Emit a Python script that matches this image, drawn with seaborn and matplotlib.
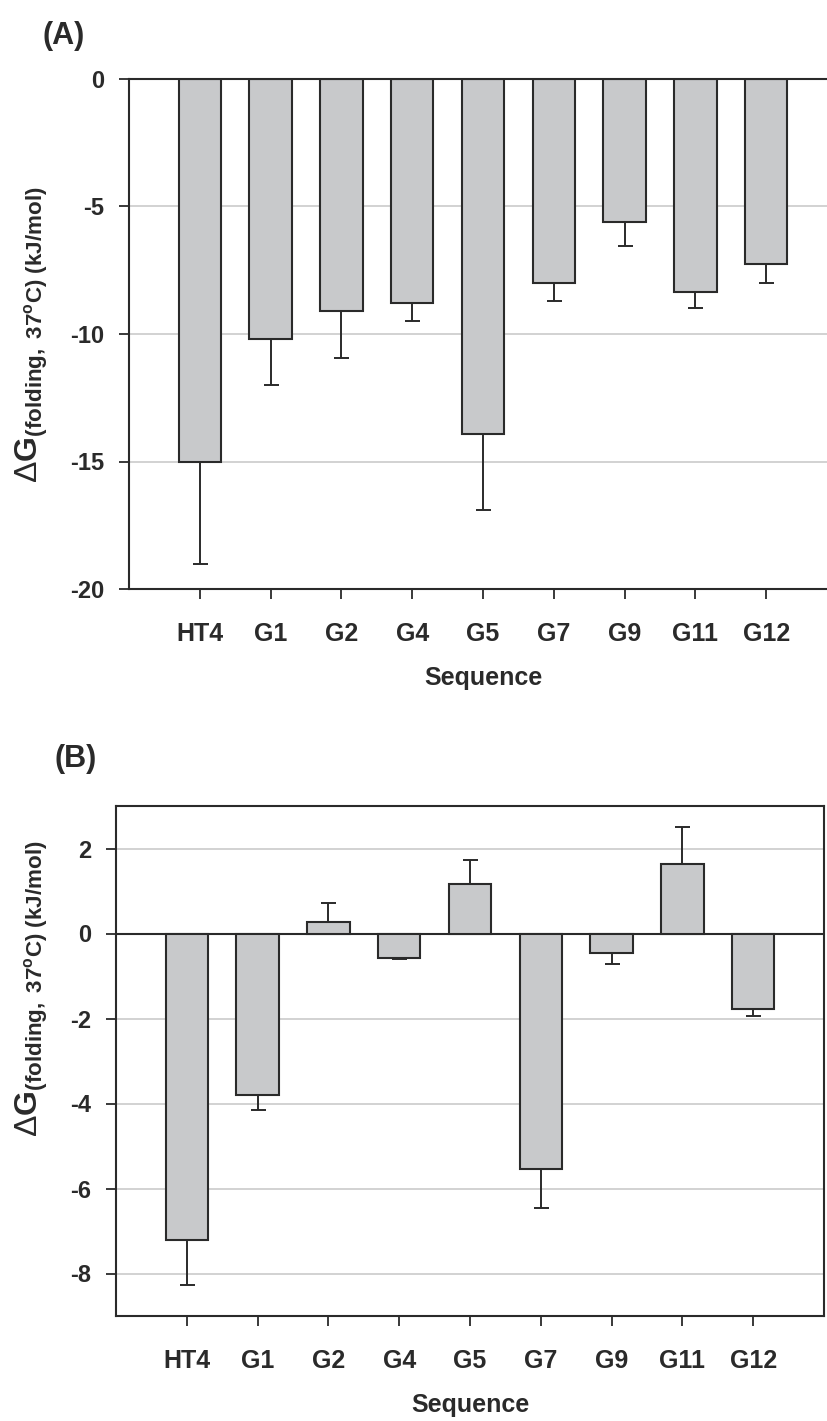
import matplotlib
matplotlib.use("Agg")
import matplotlib.pyplot as plt
import seaborn as sns
import numpy as np
import pandas as pd

# ---- data ----
sequences = ["HT4", "G1", "G2", "G4", "G5", "G7", "G9", "G11", "G12"]
dG_A = [-15.0, -10.18, -9.11, -8.77, -13.92, -8.01, -5.61, -8.35, -7.25]
err_A = [4.0, 1.82, 1.82, 0.71, 3.0, 0.70, 0.93, 0.63, 0.75]
dG_B = [-7.22, -3.81, 0.27, -0.57, 1.17, -5.55, -0.46, 1.63, -1.77]
err_B = [1.06, 0.35, 0.45, 0.04, 0.57, 0.90, 0.25, 0.88, 0.16]
yticks_A = [0, -5, -10, -15, -20]
yticks_B = [2, 0, -2, -4, -6, -8]

sns.set_style("white")
plt.rcParams['font.family'] = ['Liberation Sans', 'DejaVu Sans']
plt.rcParams['axes.unicode_minus'] = False
plt.rcParams['mathtext.fontset'] = 'custom'
plt.rcParams['mathtext.rm'] = 'Liberation Sans'
plt.rcParams['mathtext.bf'] = 'Liberation Sans:bold'
plt.rcParams['mathtext.it'] = 'Liberation Sans:italic'

W, H = 827, 1421
fig = plt.figure(figsize=(W / 100, H / 100), dpi=100)

dark = '#2a2a2a'
barcol = '#c8c9cb'
gridcol = '#cfcfcf'

def panel(rect, vals, errs, ylim, yticks, boxed_zero):
    ax = fig.add_axes(rect)
    df = pd.DataFrame({"seq": sequences, "dG": vals})
    sns.barplot(data=df, x="seq", y="dG", order=sequences, color=barcol,
                edgecolor=dark, linewidth=1.5, width=0.6, errorbar=None,
                saturation=1, ax=ax, zorder=2)
    for p in ax.patches:
        p.set_facecolor(barcol)
    v = np.array(vals)
    e = np.array(errs)
    lower = np.where(v < 0, e, 0)
    upper = np.where(v >= 0, e, 0)
    ax.errorbar(np.arange(len(sequences)), v, yerr=[lower, upper], fmt='none',
                ecolor=dark, elinewidth=1.4, capsize=5.4, capthick=1.4, zorder=3)
    ax.set_xlim(-1, len(sequences))
    ax.set_ylim(*ylim)
    ax.set_yticks(yticks)
    ax.set_yticklabels([str(t) for t in yticks], fontsize=17, fontweight='bold', color=dark)
    ax.set_xticks(range(len(sequences)))
    ax.set_xticklabels(sequences, fontsize=18, fontweight='bold', color=dark)
    ax.tick_params(axis='both', direction='out', length=7, width=1.3, color=dark,
                   left=True, bottom=True)
    ax.tick_params(axis='x', pad=17)
    ax.tick_params(axis='y', pad=11)
    ax.yaxis.grid(True, color=gridcol, lw=1.3)
    ax.xaxis.grid(False)
    ax.set_axisbelow(True)
    for s in ax.spines.values():
        s.set_visible(True)
        s.set_color(dark)
        s.set_linewidth(1.5)
    if boxed_zero:
        ax.axhline(0, color=dark, lw=1.5, zorder=1.5)
    ax.set_ylabel("")
    ax.set_xlabel("Sequence", fontsize=18, fontweight='bold', color=dark)
    ax.xaxis.set_label_coords(0.5, -89 / 510)
    ax.xaxis.label.set_verticalalignment('center')
    return ax

rectA = [129 / W, 1 - 589 / H, 708 / W, 510 / H]
rectB = [116 / W, 1 - 1316 / H, 708 / W, 510 / H]
axA = panel(rectA, dG_A, err_A, (-20, 0), yticks_A, False)
axB = panel(rectB, dG_B, err_B, (-9, 3), yticks_B, True)

ylab = r"$\Delta\mathbf{G}_{\mathbf{(folding,\ 37}^{\mathbf{o}}\mathbf{C)\ (kJ/mol)}}$"
fig.text(32 / W, 1 - 335 / H, ylab, rotation=90, ha='center', va='center',
         fontsize=23, color=dark)
fig.text(32 / W, 1 - 989 / H, ylab, rotation=90, ha='center', va='center',
         fontsize=23, color=dark)

fig.text(43 / W, 1 - 36 / H, "(A)", ha='left', va='center', fontsize=22,
         fontweight='bold', color=dark)
fig.text(55 / W, 1 - 759 / H, "(B)", ha='left', va='center', fontsize=22,
         fontweight='bold', color=dark)

fig.savefig("out.png", dpi=100)
